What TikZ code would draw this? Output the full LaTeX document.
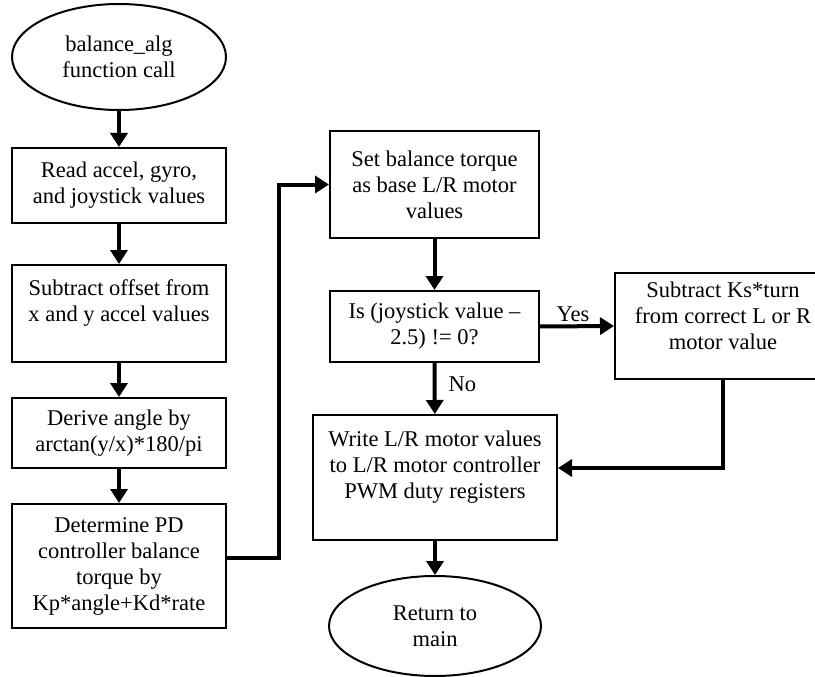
\documentclass[tikz,border=0pt]{standalone}
\usepackage{fontspec}
\setmainfont{Liberation Serif}
\usetikzlibrary{arrows.meta,shapes.geometric}
\begin{document}
\begin{tikzpicture}[x=1pt,y=-1pt,
  every node/.style={font=\fontsize{22.5}{26}\selectfont, align=center, inner sep=0pt},
  procbox/.style={draw, line width=2pt, rectangle},
  termnode/.style={draw, line width=2pt, ellipse},
  flow/.style={line width=4pt, -{Triangle[length=14pt,width=17pt]}}
]
\useasboundingbox (0,0) rectangle (815,677);

% left column
\node[termnode, minimum width=214pt, minimum height=106pt] (start) at (119,57) {balance\_alg\\function call};
\node[procbox, minimum width=214pt, minimum height=75pt] (read) at (119,185.5) {Read accel, gyro,\\and joystick values};
\node[procbox, minimum width=214pt, minimum height=97pt] (offset) at (119,313.5) {Subtract offset from\\x and y accel values\\\mbox{}};
\node[procbox, minimum width=214pt, minimum height=70pt] (angle) at (119,433) {Derive angle by\\arctan(y/x)*180/pi};
\node[procbox, minimum width=214pt, minimum height=124pt] (pd) at (119,566) {Determine PD\\controller balance\\torque by\\Kp*angle+Kd*rate};

% right part
\node[procbox, minimum width=209pt, minimum height=107pt] (base) at (434.5,184.5) {Set balance torque\\as base L/R motor\\values};
\node[procbox, minimum width=209pt, minimum height=71pt] (check) at (434.5,326.5) {Is (joystick value –\\2.5) != 0?};
\node[procbox, minimum width=216pt, minimum height=106pt] (turn) at (723,326) {Subtract Ks*turn\\from correct L or R\\motor value\\[-6pt]\mbox{}};
\node[procbox, minimum width=244pt, minimum height=125pt] (write) at (435,477.5) {Write L/R motor values\\to L/R motor controller\\PWM duty registers\\\mbox{}};
\node[termnode, minimum width=212pt, minimum height=100pt] (ret) at (435,626) {Return to\\main};

% connectors
\draw[flow] (start) -- (read);
\draw[flow] (read) -- (offset);
\draw[flow] (offset) -- (angle);
\draw[flow] (angle) -- (pd);
\coordinate (bend) at (279,558);
\draw[flow] ([yshift=8pt]pd.east) -- (bend) |- (base.west);
\draw[flow] (base) -- (check);
\draw[flow] (check.east) -- (turn.west) node[midway, above=3pt, xshift=-4pt] (yes) {Yes};
\draw[flow] (check) -- (write) node[midway, right=12pt, yshift=4pt] (no) {No};
\draw[flow] (turn.south) |- ([yshift=9.5pt]write.east);
\draw[flow] (write) -- (ret);
\end{tikzpicture}
\end{document}
